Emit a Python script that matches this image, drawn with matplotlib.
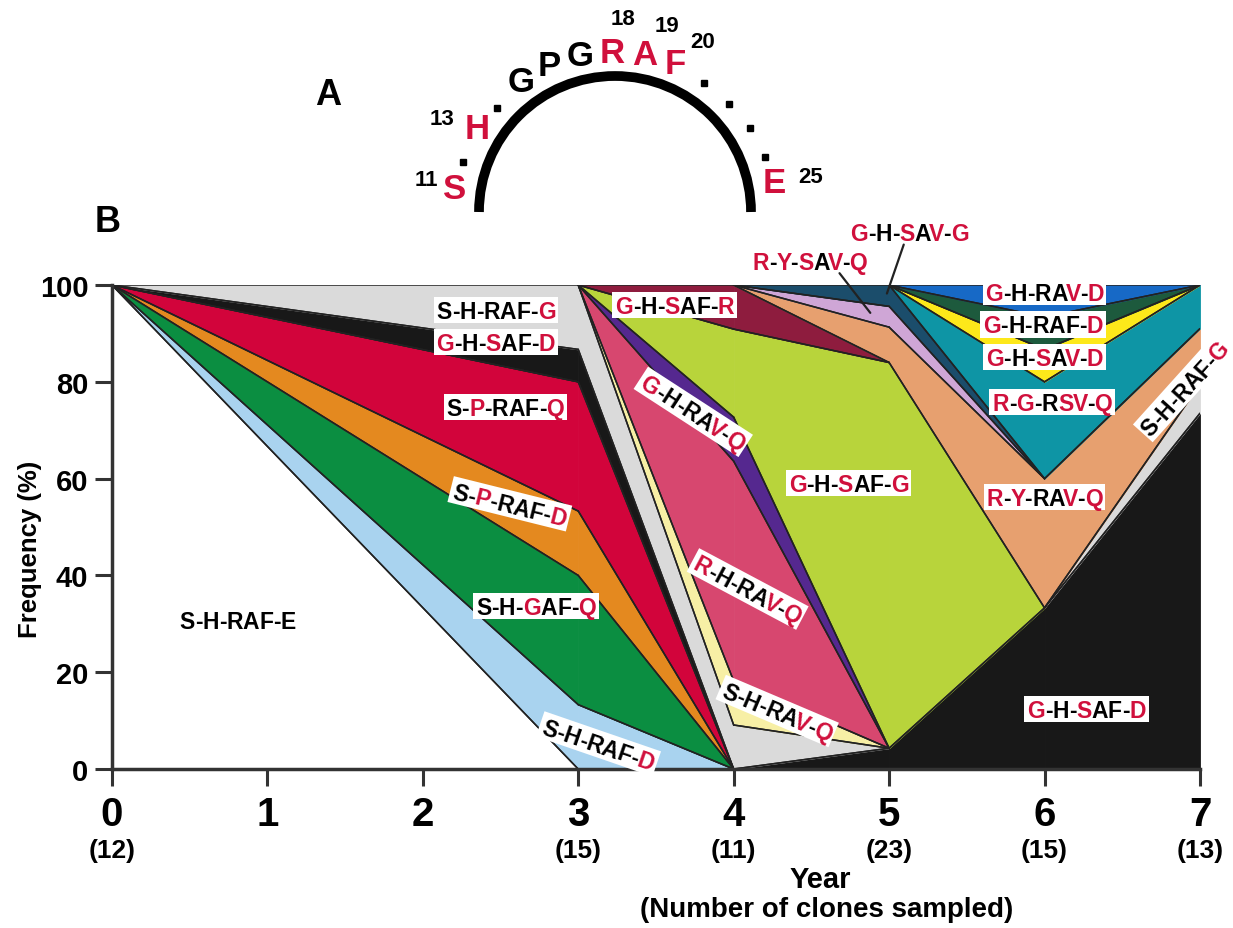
import numpy as np
import matplotlib.pyplot as plt
import matplotlib.patches as mpatches
from matplotlib.transforms import ScaledTranslation, blended_transform_factory
from matplotlib.font_manager import FontProperties

plt.rcParams['font.family'] = ['Liberation Sans', 'DejaVu Sans']
plt.rcParams['font.weight'] = 'bold'

RED = '#d0103c'

years = [0, 3, 4, 5, 6, 7]
clones_sampled = [12, 15, 11, 23, 15, 13]

# frequency (%) of each clone, bottom to top, at each sampled year
# a 0 marks where a band starts or ends
y0_clones = ['S-H-RAF-E', 'S-H-RAF-D', 'S-H-GAF-Q', 'S-P-RAF-D', 'S-P-RAF-Q', 'G-H-SAF-D', 'S-H-RAF-G']
y0_freq = [100, 0, 0, 0, 0, 0, 0]
y3_clones = ['S-H-RAF-E', 'S-H-RAF-D', 'S-H-GAF-Q', 'S-P-RAF-D', 'S-P-RAF-Q', 'G-H-SAF-D', 'S-H-RAF-G',
             'S-H-RAV-Q', 'R-H-RAV-Q', 'G-H-RAV-Q', 'G-H-SAF-G', 'G-H-SAF-R']
y3_freq = [0, 13.3, 26.7, 13.3, 26.7, 6.7, 13.3, 0, 0, 0, 0, 0]
y4_clones = ['S-H-RAF-D', 'S-H-GAF-Q', 'S-P-RAF-D', 'S-P-RAF-Q', 'G-H-SAF-D', 'S-H-RAF-G', 'S-H-RAV-Q',
             'R-H-RAV-Q', 'G-H-RAV-Q', 'G-H-SAF-G', 'G-H-SAF-R', 'R-Y-RAV-Q', 'R-Y-SAV-Q', 'G-H-SAV-G']
y4_freq = [0, 0, 0, 0, 0, 9.1, 9.1, 45.4, 9.1, 18.2, 9.1, 0, 0, 0]
y5_clones = ['G-H-SAF-D', 'S-H-RAF-G', 'S-H-RAV-Q', 'R-H-RAV-Q', 'G-H-RAV-Q', 'G-H-SAF-G', 'G-H-SAF-R',
             'R-Y-RAV-Q', 'R-Y-SAV-Q', 'G-H-SAV-G', 'R-G-RSV-Q', 'G-H-SAV-D', 'G-H-RAF-D', 'G-H-RAV-D']
y5_freq = [4.3, 0, 0, 0, 0, 79.7, 0, 7.3, 4.3, 4.4, 0, 0, 0, 0]
y6_clones = ['G-H-SAF-D', 'S-H-RAF-G', 'G-H-SAF-G', 'R-Y-RAV-Q', 'R-Y-SAV-Q', 'G-H-SAV-G', 'R-G-RSV-Q',
             'G-H-SAV-D', 'G-H-RAF-D', 'G-H-RAV-D']
y6_freq = [33.3, 0, 0, 26.7, 0, 0, 20, 6.7, 6.7, 6.6]
y7_clones = ['G-H-SAF-D', 'S-H-RAF-G', 'R-Y-RAV-Q', 'R-G-RSV-Q', 'G-H-SAV-D', 'G-H-RAF-D', 'G-H-RAV-D']
y7_freq = [73.5, 6, 11.5, 9, 0, 0, 0]

colors = {
    'S-H-RAF-E': '#ffffff', 'S-H-RAF-D': '#a9d3ef', 'S-H-GAF-Q': '#0b8e41', 'S-P-RAF-D': '#e4891f',
    'S-P-RAF-Q': '#d2043b', 'G-H-SAF-D': '#181818', 'S-H-RAF-G': '#dadada', 'S-H-RAV-Q': '#f7efa5',
    'R-H-RAV-Q': '#d7476f', 'G-H-RAV-Q': '#55288f', 'G-H-SAF-G': '#b8d43b', 'G-H-SAF-R': '#8e1c3e',
    'R-Y-RAV-Q': '#e7a06f', 'R-Y-SAV-Q': '#cfa6d6', 'G-H-SAV-G': '#1b4d6b', 'R-G-RSV-Q': '#0e95a5',
    'G-H-SAV-D': '#fde81a', 'G-H-RAF-D': '#1d5a3d', 'G-H-RAV-D': '#1769c6',
}

# band labels: lower-case letters are the mutated residues (drawn red)
label_text = ['S-H-RAF-E', 'S-H-RAF-g', 'g-H-sAF-d', 'S-p-RAF-q', 'S-p-RAF-d', 'S-H-gAF-q', 'S-H-RAF-d',
              'g-H-sAF-r', 'g-H-RAv-q', 'g-H-sAF-g', 'r-H-RAv-q', 'S-H-RAv-q', 'r-y-sAv-q', 'g-H-sAv-g',
              'g-H-RAv-d', 'g-H-RAF-d', 'g-H-sAv-d', 'r-g-Rsv-q', 'r-y-RAv-q', 'S-H-RAF-g', 'g-H-sAF-d']
label_x = [0.81, 2.47, 2.47, 2.53, 2.56, 2.73, 3.13, 3.62, 3.74, 4.74, 4.09, 4.28, 4.49, 5.13,
           6.0, 5.99, 6.0, 6.05, 6.0, 6.9, 6.27]
label_y = [30.8, 94.8, 88.2, 74.8, 54.8, 33.7, 5.2, 95.9, 73.8, 59.1, 37.2, 12.0, 105.0, 111.0,
           98.6, 91.9, 85.1, 75.8, 56.2, 78.9, 12.4]
label_rot = [0, 0, 0, 0, -14, 0, -19, 0, -33, 0, -28, -23, 0, 0, 0, 0, 0, 0, 0, 48, 0]

# panel A: loop residues 11-25 ('.' = unchanged, not shown), upper case = mutated
residues = 'S.H.GPGRAF....E'
mutated = 'S H    RAF    E'


def seq_label(ax, x, y, marked, angle=0, size=16.5):
    fig = ax.figure
    rend = fig.canvas.get_renderer()
    prop = FontProperties(family=['Liberation Sans', 'DejaVu Sans'], weight='bold', size=size)
    text = marked.upper()

    def width(s):
        return rend.get_text_width_height_descent(s, prop, ismath=False)[0] / fig.dpi

    W = width(text)
    cap = 0.72 * size / 72
    a = np.deg2rad(angle)
    u = np.array([np.cos(a), np.sin(a)])
    n = np.array([-np.sin(a), np.cos(a)])
    tr = fig.dpi_scale_trans + ScaledTranslation(x, y, ax.transData)
    px, py = 0.12 * size / 72, 0.22 * size / 72
    corners = [(-W / 2 - px) * u + (-cap / 2 - py) * n, (W / 2 + px) * u + (-cap / 2 - py) * n,
               (W / 2 + px) * u + (cap / 2 + py) * n, (-W / 2 - px) * u + (cap / 2 + py) * n]
    ax.add_patch(mpatches.Polygon(corners, closed=True, transform=tr, fc='white', ec='none',
                                  zorder=5, clip_on=False))
    start = -W / 2 * u - cap / 2 * n
    for k, ch in enumerate(marked):
        off = width(text[:k + 1]) - width(text[k]) if k else 0
        p = start + off * u
        ax.text(p[0], p[1], ch.upper(), transform=tr, rotation=angle, rotation_mode='anchor',
                ha='left', va='baseline', fontproperties=prop,
                color=RED if ch.islower() else 'black', zorder=6, clip_on=False)


fig = plt.figure(figsize=(12.33, 9.29), dpi=100)
ax = fig.add_axes([0.0908, 0.1711, 0.8824, 0.5210])

stacks = [(y0_clones, y0_freq), (y3_clones, y3_freq), (y4_clones, y4_freq),
          (y5_clones, y5_freq), (y6_clones, y6_freq), (y7_clones, y7_freq)]
bounds = []
for names, freq in stacks:
    top = np.cumsum(freq)
    bot = top - np.array(freq)
    bounds.append({nm: (b, t) for nm, b, t in zip(names, bot, top)})

for i in range(len(years) - 1):
    xa, xb = years[i], years[i + 1]
    for nm, (la, ha) in bounds[i].items():
        if nm not in bounds[i + 1]:
            continue
        lb, hb = bounds[i + 1][nm]
        if ha - la < 1e-6 and hb - lb < 1e-6:
            continue
        ax.fill_between([xa, xb], [la, lb], [ha, hb], color=colors[nm], lw=0.6, zorder=1)
        ax.plot([xa, xb], [la, lb], color='#222222', lw=1.1, zorder=2, solid_capstyle='round')
        ax.plot([xa, xb], [ha, hb], color='#222222', lw=1.1, zorder=2, solid_capstyle='round')

ax.set_xlim(0, 7)
ax.set_ylim(0, 100)
for s in ['top', 'right']:
    ax.spines[s].set_visible(False)
for s in ['left', 'bottom']:
    ax.spines[s].set_linewidth(2.5)
    ax.spines[s].set_color('#333333')
    ax.spines[s].set_zorder(3)
ax.set_xticks(range(8))
ax.set_xticklabels([str(v) for v in range(8)], fontsize=29, fontweight='bold')
ax.set_yticks(range(0, 101, 20))
ax.set_yticklabels([str(v) for v in range(0, 101, 20)], fontsize=21, fontweight='bold')
ax.tick_params(axis='both', direction='out', length=12, width=2.2, color='#333333')
ax.tick_params(axis='x', pad=7)
ax.tick_params(axis='y', pad=5)

btr = blended_transform_factory(ax.transData, ax.transAxes)
for yr, cnt in zip(years, clones_sampled):
    ax.text(yr, -0.167, f'({cnt})', transform=btr, ha='center', va='center', fontsize=19,
            fontweight='bold')

for t, x, y, r in zip(label_text, label_x, label_y, label_rot):
    seq_label(ax, x, y, t, r)

# leader lines for the two labels above the plot
ax.annotate('', xy=(4.89, 93.8), xytext=(4.67, 102.9),
            arrowprops=dict(arrowstyle='-', color='#222222', lw=1.6), annotation_clip=False, zorder=7)
ax.annotate('', xy=(4.98, 97.7), xytext=(5.10, 108.9),
            arrowprops=dict(arrowstyle='-', color='#222222', lw=1.6), annotation_clip=False, zorder=7)

fig.text(0.024, 1 - 549 / 929, 'Frequency (%)', rotation=90, ha='center', va='center',
         fontsize=18.5, fontweight='bold')
fig.text(820 / 1233, 1 - 880 / 929, 'Year', ha='center', va='center', fontsize=21, fontweight='bold')
fig.text(827 / 1233, 1 - 910 / 929, '(Number of clones sampled)', ha='center', va='center',
         fontsize=20, fontweight='bold')

# panel A: the loop sequence around an arc (drawn in pixel units)
axA = fig.add_axes([0, 0, 1, 1], zorder=-1)
axA.set_xlim(0, 1233)
axA.set_ylim(929, 0)
axA.axis('off')
cx, cy, rad = 615, 213, 136
axA.add_patch(mpatches.Arc((cx, cy), 2 * rad, 2 * rad, theta1=180, theta2=360, lw=7, color='black'))
angles = np.deg2rad(np.linspace(170.5, 11.5, len(residues)))
fs_res = 25
cap_px = fs_res * 100 / 72 * 0.72
for ch, m, th in zip(residues, mutated, angles):
    px, py = cx + 163 * np.cos(th), cy - 163 * np.sin(th)
    if ch == '.':
        axA.plot(px, py + 8, 's', ms=4.5, color='black')
    else:
        axA.text(px, py + cap_px / 2, ch, ha='center', va='baseline',
                 fontsize=fs_res, fontweight='bold', color=RED if m != ' ' else 'black')
num_text = ['11', '13', '18', '19', '20', '25']
num_x = [426, 442, 623, 667, 703, 811]
num_y = [180, 119, 19, 26, 42, 177]
for t, x, y in zip(num_text, num_x, num_y):
    axA.text(x, y, t, ha='center', va='center', fontsize=16, fontweight='bold')
axA.text(328, 95, 'A', ha='center', va='center', fontsize=26, fontweight='bold')
axA.text(108, 222, 'B', ha='center', va='center', fontsize=26, fontweight='bold')

fig.savefig('out.png', dpi=100)
